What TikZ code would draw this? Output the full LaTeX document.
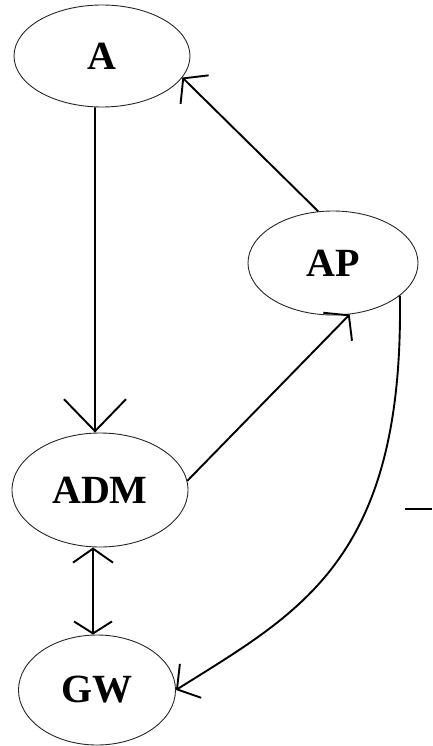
\documentclass[tikz,border=0pt]{standalone}
\usepackage{fontspec}
\setmainfont{Liberation Serif}
\usepackage{tikz}
\usetikzlibrary{shapes.geometric,arrows.meta}

\tikzset{
  state/.style={ellipse, draw=black!85, line width=0.9bp, inner sep=0pt,
    font=\fontsize{40bp}{48bp}\selectfont\bfseries},
  link/.style={line width=1.9bp, -{Straight Barb[length=16bp,width=40bp,line width=1.9bp]}},
  twolink/.style={line width=1.9bp, {Straight Barb[length=14bp,width=40bp,line width=1.9bp]}-{Straight Barb[length=12bp,width=38bp,line width=1.9bp]}}
}

\begin{document}
\begin{tikzpicture}[x=1bp,y=-1bp]
\useasboundingbox (0,0) rectangle (432,746);

%states
\node[state, minimum width=176bp, minimum height=102bp] (A)   at (102,56)  {A};
\node[state, minimum width=170bp, minimum height=104bp] (AP)  at (333,263) {AP};
\node[state, minimum width=176bp, minimum height=114bp] (ADM) at (100,490) {ADM};
\node[state, minimum width=157bp, minimum height=110bp] (GW)  at (97,690)  {GW};

%arrows
\draw[link, -{Straight Barb[length=32bp,width=62bp,line width=1.9bp]}] ([xshift=-7bp]A.south) -- ([xshift=-5bp]ADM.north);
\draw[link] (AP.106) -- (A.-15);
\draw[link] (ADM.6) -- (AP.-72);
\draw[link] (AP.-26) .. controls (404,560) and (300,612) .. (GW.east);
\draw[twolink] ([xshift=-7bp]ADM.south) -- ([xshift=-4bp]GW.north);

%stray tick on the right
\coordinate (tick) at (405,509);
\draw[line width=1.9bp] (tick) -- ++(27,0);

\end{tikzpicture}
\end{document}
